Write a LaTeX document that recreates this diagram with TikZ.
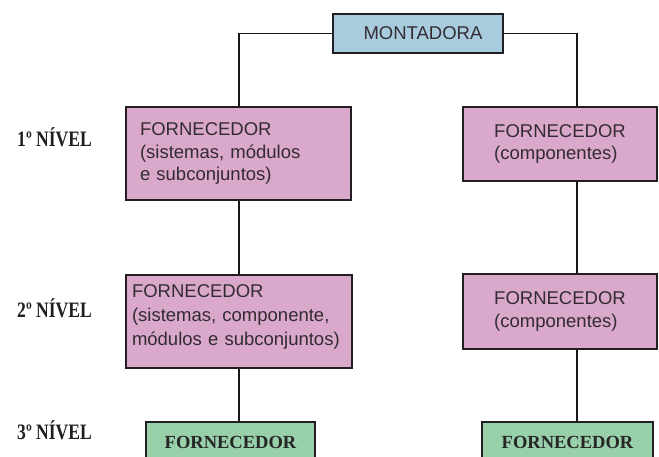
\documentclass[tikz,border=0pt]{standalone}
\usepackage{fontspec}
\setmainfont{Liberation Sans}
\newfontfamily\levelfont[FakeStretch=0.8]{Liberation Serif}
\newfontfamily\greenfont{Liberation Serif}

\definecolor{montfill}{RGB}{168,204,222}
\definecolor{pinkfill}{RGB}{217,168,202}
\definecolor{greenfill}{RGB}{152,208,170}
\definecolor{inkgray}{RGB}{50,44,50}
\definecolor{edgeink}{RGB}{34,30,34}

\tikzset{
  box/.style={draw=edgeink, line width=2pt, rectangle, inner ysep=0pt,
    text=inkgray, font=\fontsize{18.5}{22.5}\selectfont},
  pinkbox/.style={box, fill=pinkfill},
  greenbox/.style={box, fill=greenfill, minimum height=40pt,
    text=black!85, font=\greenfont\bfseries\fontsize{18.5}{22}\selectfont},
  conn/.style={draw=black!90, line width=1.8pt},
  level/.style={anchor=base west, text=black!88,
    font=\levelfont\bfseries\fontsize{22}{24}\selectfont, inner sep=0pt}
}

\begin{document}
\begin{tikzpicture}[x=1pt, y=-1pt]
  \fill[white] (0,0) rectangle (659,457);
  \clip (0,0) rectangle (659,457);

  % top of the chain
  \node[box, fill=montfill, minimum width=170pt, minimum height=39pt] (mont) at (418,33.5)
    {\hspace*{10pt}MONTADORA};

  % first tier
  \node[pinkbox, minimum height=93pt, text width=197pt, inner xsep=14pt, align=left] (f1a) at (238.5,153.5)
    {FORNECEDOR\\(sistemas, módulos\\e subconjuntos)};
  \node[pinkbox, minimum width=194pt, minimum height=74pt, align=left] (f1b) at (560,144)
    {FORNECEDOR\\(componentes)};

  % second tier (text block sits a little above the middle)
  \node[pinkbox, minimum height=93pt, text width=214pt, inner xsep=6pt, align=left,
        font=\fontsize{18.5}{24}\selectfont] (f2a) at (239,321.5)
    {FORNECEDOR\\(sistemas, componente,\\módulos e subconjuntos)\rule[-13pt]{0pt}{13pt}};
  \node[pinkbox, minimum width=194pt, minimum height=75pt, align=left] (f2b) at (560,311.5)
    {FORNECEDOR\\(componentes)};

  % third tier
  \node[greenbox, minimum width=169pt] (f3a) at (230.5,442) {FORNECEDOR};
  \node[greenbox, minimum width=171pt] (f3b) at (567.5,442) {FORNECEDOR};

  % vertical trunks of the two columns
  \coordinate (lc) at (239,0);
  \coordinate (rc) at (577,0);

  \draw[conn] (mont.west) -| (f1a.north -| lc);
  \draw[conn] (mont.east) -| (f1b.north -| rc);
  \draw[conn] (f1a.south -| lc) -- (f2a.north -| lc);
  \draw[conn] (f1b.south -| rc) -- (f2b.north -| rc);
  \draw[conn] (f2a.south -| lc) -- (f3a.north -| lc);
  \draw[conn] (f2b.south -| rc) -- (f3b.north -| rc);

  % tier labels
  \node[level] (n1) at (17,147) {1º NÍVEL};
  \node[level] (n2) at (17,317) {2º NÍVEL};
  \node[level] (n3) at (17,439) {3º NÍVEL};
\end{tikzpicture}
\end{document}
